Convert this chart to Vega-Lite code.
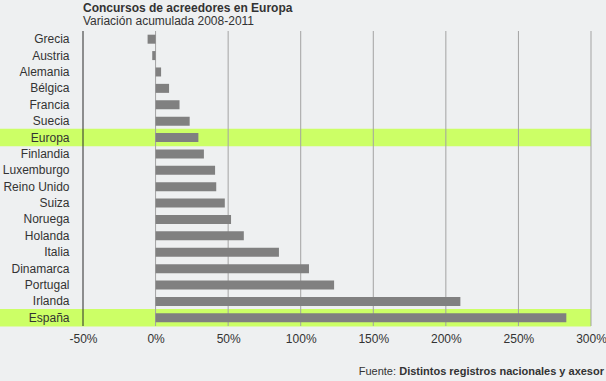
{
  "$schema": "https://vega.github.io/schema/vega-lite/v6.json",
  "width": 508,
  "height": 295,
  "autosize": "none",
  "padding": {"left": 83, "top": 31, "right": 15, "bottom": 55},
  "background": "#eef0f1",
  "title": {
    "text": "Concursos de acreedores en Europa",
    "subtitle": "Variación acumulada 2008-2011",
    "anchor": "start",
    "frame": "group",
    "font": "Liberation Sans",
    "fontSize": 12,
    "fontWeight": "bold",
    "color": "#333333",
    "subtitleFont": "Liberation Sans",
    "subtitleFontSize": 12,
    "subtitleColor": "#333333",
    "subtitlePadding": 1,
    "offset": 3
  },
  "config": {
    "view": {"stroke": null},
    "font": "Liberation Sans",
    "axis": {"labelFont": "Liberation Sans"}
  },
  "datasets": {
    "paises": [
      {"pais": "Grecia", "valor": -5.5},
      {"pais": "Austria", "valor": -2.3},
      {"pais": "Alemania", "valor": 3.8},
      {"pais": "Bélgica", "valor": 9.3},
      {"pais": "Francia", "valor": 16.5},
      {"pais": "Suecia", "valor": 23.5},
      {"pais": "Europa", "valor": 29.5},
      {"pais": "Finlandia", "valor": 33.3},
      {"pais": "Luxemburgo", "valor": 41},
      {"pais": "Reino Unido", "valor": 41.8},
      {"pais": "Suiza", "valor": 47.7},
      {"pais": "Noruega", "valor": 52},
      {"pais": "Holanda", "valor": 60.8},
      {"pais": "Italia", "valor": 85},
      {"pais": "Dinamarca", "valor": 105.7},
      {"pais": "Portugal", "valor": 123},
      {"pais": "Irlanda", "valor": 210},
      {"pais": "España", "valor": 283}
    ],
    "grid": [
      {"v": -50}, {"v": 0}, {"v": 50}, {"v": 100}, {"v": 150}, {"v": 200}, {"v": 250}, {"v": 300}
    ]
  },
  "layer": [
    {
      "data": {"name": "paises"},
      "mark": {"type": "bar", "color": "#ccff66", "height": {"band": 1.06}},
      "encoding": {
        "y": {"field": "pais", "type": "nominal", "sort": null},
        "x": {"datum": -107.3, "type": "quantitative"},
        "x2": {"datum": 300},
        "opacity": {
          "condition": {"test": "datum.pais === 'Europa' || datum.pais === 'España'", "value": 1},
          "value": 0
        }
      }
    },
    {
      "data": {"name": "grid"},
      "mark": {"type": "rule", "strokeWidth": 1},
      "encoding": {
        "x": {"field": "v", "type": "quantitative"},
        "color": {
          "condition": {"test": "datum.v === -50", "value": "#2a2a2a"},
          "value": "#a3a3a3"
        }
      }
    },
    {
      "data": {"name": "paises"},
      "mark": {"type": "bar", "color": "#808080", "height": {"band": 0.55}},
      "encoding": {
        "y": {
          "field": "pais",
          "type": "nominal",
          "sort": null,
          "scale": {"paddingInner": 0, "paddingOuter": 0},
          "axis": {
            "title": null,
            "domain": false,
            "ticks": false,
            "tickSize": 0,
            "labelPadding": 14,
            "labelFontSize": 12,
            "labelColor": "#333333",
            "zindex": 1
          }
        },
        "x": {
          "field": "valor",
          "type": "quantitative",
          "scale": {"domain": [-50, 300], "nice": false, "zero": false},
          "axis": {
            "title": null,
            "values": [-50, 0, 50, 100, 150, 200, 250, 300],
            "labelExpr": "datum.value + '%'",
            "grid": false,
            "domain": false,
            "ticks": false,
            "tickSize": 0,
            "labelPadding": 7,
            "labelFontSize": 12,
            "labelColor": "#333333",
            "labelFlush": false
          }
        }
      }
    },
    {
      "data": {"values": [{}]},
      "mark": {"type": "text", "align": "right", "baseline": "alphabetic", "fontSize": 11, "fontWeight": "bold", "color": "#333333", "dx": 13, "dy": 57},
      "encoding": {
        "x": {"datum": 300, "type": "quantitative"},
        "y": {"datum": "España", "type": "nominal"},
        "text": {"value": "Distintos registros nacionales y axesor"}
      }
    },
    {
      "data": {"values": [{}]},
      "mark": {"type": "text", "align": "right", "baseline": "alphabetic", "fontSize": 11, "color": "#333333", "dx": -195, "dy": 57},
      "encoding": {
        "x": {"datum": 300, "type": "quantitative"},
        "y": {"datum": "España", "type": "nominal"},
        "text": {"value": "Fuente:"}
      }
    }
  ]
}
